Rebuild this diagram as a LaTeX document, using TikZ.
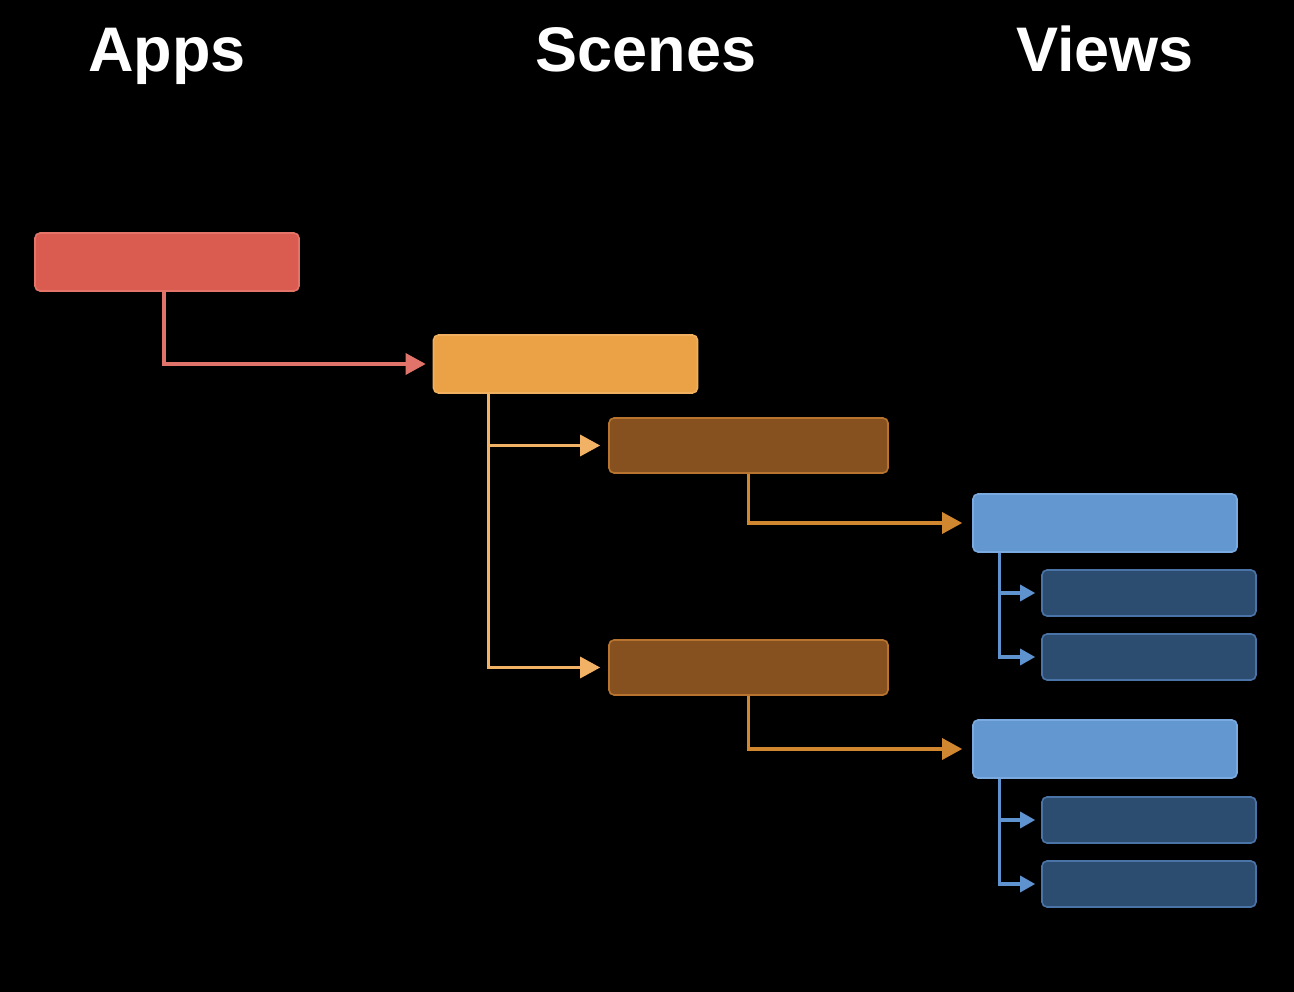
\documentclass[tikz,border=0pt]{standalone}
\usepackage{fontspec}
\setmainfont{Liberation Sans}
\usetikzlibrary{arrows.meta}
\definecolor{redfill}{HTML}{DA5C50}
\definecolor{redborder}{HTML}{E47468}
\definecolor{redline}{HTML}{E0736A}
\definecolor{orfill}{HTML}{EBA145}
\definecolor{orborder}{HTML}{F0B060}
\definecolor{orline}{HTML}{F2B265}
\definecolor{brfill}{HTML}{87511F}
\definecolor{brborder}{HTML}{B8742E}
\definecolor{brline}{HTML}{D0872F}
\definecolor{blfill}{HTML}{6397CF}
\definecolor{blborder}{HTML}{7AAAE0}
\definecolor{blline}{HTML}{5E93D0}
\definecolor{dbfill}{HTML}{2D4D70}
\definecolor{dbborder}{HTML}{4A74A8}
\tikzset{
  box/.style={rectangle, rounded corners=5pt, line width=1.6pt, inner sep=0pt},
  bigbox/.style={box, minimum width=264pt, minimum height=58pt},
  midbox/.style={box, minimum width=279pt, minimum height=55pt},
  smallbox/.style={box, minimum width=214pt, minimum height=46pt},
  title/.style={font=\fontsize{63}{70}\selectfont\bfseries, text=white, anchor=base},
  conn/.style={line width=3.2pt},
  bigtip/.style={-{Triangle[length=20pt,width=21pt]}},
  smalltip/.style={-{Triangle[length=15pt,width=16pt]}}
}
\begin{document}
\begin{tikzpicture}[x=1pt,y=-1pt]
\fill[black] (0,0) rectangle (1294,992);
\useasboundingbox (0,0) rectangle (1294,992);
% titles
\node[title] (tapps) at (167,72) {Apps};
\node[title] (tscenes) at (646,72) {Scenes};
\node[title] (tviews) at (1105,72) {Views};
% boxes
\node[bigbox, fill=redfill, draw=redborder] (app) at (167,262) {};
\node[bigbox, fill=orfill, draw=orborder] (scene) at (565.5,364) {};
\node[midbox, fill=brfill, draw=brborder] (win1) at (748.5,445.5) {};
\node[midbox, fill=brfill, draw=brborder] (win2) at (748.5,667.5) {};
\node[bigbox, fill=blfill, draw=blborder] (view1) at (1105,523) {};
\node[bigbox, fill=blfill, draw=blborder] (view2) at (1105,749) {};
\node[smallbox, fill=dbfill, draw=dbborder] (sv1) at (1149,593) {};
\node[smallbox, fill=dbfill, draw=dbborder] (sv2) at (1149,657) {};
\node[smallbox, fill=dbfill, draw=dbborder] (sv3) at (1149,820) {};
\node[smallbox, fill=dbfill, draw=dbborder] (sv4) at (1149,884) {};
% connectors
\draw[conn, draw=redline, bigtip, shorten >=7pt] ([xshift=-3pt]app.south) |- (scene.west);
\draw[conn, draw=orline, bigtip, shorten >=8pt] ([xshift=56pt]scene.south west) |- (win1.west);
\draw[conn, draw=orline, bigtip, shorten >=8pt] ([xshift=56pt]scene.south west) |- (win2.west);
\draw[conn, draw=brline, bigtip, shorten >=10pt] (win1.south) |- (view1.west);
\draw[conn, draw=brline, bigtip, shorten >=10pt] (win2.south) |- (view2.west);
\draw[conn, draw=blline, smalltip, shorten >=6pt] ([xshift=27pt]view1.south west) |- (sv1.west);
\draw[conn, draw=blline, smalltip, shorten >=6pt] ([xshift=27pt]view1.south west) |- (sv2.west);
\draw[conn, draw=blline, smalltip, shorten >=6pt] ([xshift=27pt]view2.south west) |- (sv3.west);
\draw[conn, draw=blline, smalltip, shorten >=6pt] ([xshift=27pt]view2.south west) |- (sv4.west);
\end{tikzpicture}
\end{document}
